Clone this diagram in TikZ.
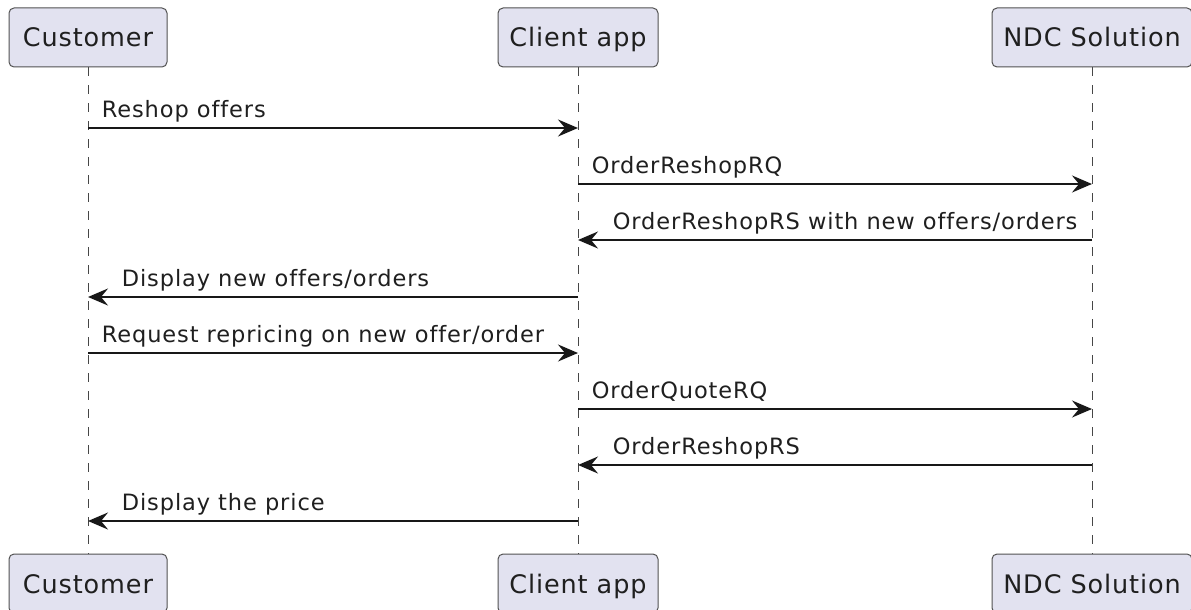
\documentclass[tikz,border=0pt]{standalone}
\usepackage{fontspec}
\setmainfont{DejaVu Sans}
\newfontfamily\partfont[LetterSpace=3.5,Ligatures={NoCommon}]{DejaVu Sans}
\newfontfamily\msgfont[LetterSpace=4,Ligatures={NoCommon}]{DejaVu Sans}
\usetikzlibrary{arrows.meta}
\definecolor{pfill}{HTML}{E2E2F0}
\definecolor{pline}{HTML}{181818}
\begin{document}
\begin{tikzpicture}[x=1pt,y=-1pt,
  participant/.style={draw=pline!75, line width=1pt, fill=pfill, rounded corners=5pt,
    minimum height=59pt, inner sep=0pt, text height=19pt, text depth=0pt,
    font=\partfont\fontsize{25.5}{30}\selectfont, text=black!88},
  lifeline/.style={draw=pline!80, line width=0.9pt, dash pattern=on 9pt off 9pt},
  msg/.style={draw=pline, line width=1.7pt, -{Stealth[length=20pt,width=17pt,inset=7pt]}},
  lbl/.style={font=\msgfont\fontsize{22.5}{27}\selectfont, text=black!88, inner sep=0pt, anchor=base west}
]
\useasboundingbox (0,0) rectangle (1191,610);
\clip (0,0) rectangle (1191,610);
\fill[white] (0,0) rectangle (1191,610);

% lifelines
\draw[lifeline] (88,67) -- (88,554);
\draw[lifeline] (578,67) -- (578,554);
\draw[lifeline] (1092,67) -- (1092,554);

% participants (top)
\node[participant, minimum width=158pt] (cust) at (88,37.5) {Customer};
\node[participant, minimum width=160pt] (app) at (578,37.5) {Client app};
\node[participant, minimum width=200pt] (ndc) at (1092,37.5) {NDC Solution};
% participants (bottom)
\node[participant, minimum width=158pt] (custb) at (88,583.5) {Customer};
\node[participant, minimum width=160pt] (appb) at (578,583.5) {Client app};
\node[participant, minimum width=200pt] (ndcb) at (1092,583.5) {NDC Solution};

% message levels
\coordinate (y1) at (0,128);
\coordinate (y2) at (0,184);
\coordinate (y3) at (0,240);
\coordinate (y4) at (0,297);
\coordinate (y5) at (0,353);
\coordinate (y6) at (0,409);
\coordinate (y7) at (0,465);
\coordinate (y8) at (0,521);

\draw[msg] (cust |- y1) -- (app |- y1) node[lbl, pos=0, xshift=13pt, yshift=10.5pt] {Reshop offers};
\draw[msg] (app |- y2) -- (ndc |- y2) node[lbl, pos=0, xshift=13pt, yshift=10.5pt] {OrderReshopRQ};
\draw[msg] (ndc |- y3) -- (app |- y3) node[lbl, pos=1, xshift=34pt, yshift=10.5pt] {OrderReshopRS with new offers/orders};
\draw[msg] (app |- y4) -- (cust |- y4) node[lbl, pos=1, xshift=33pt, yshift=10.5pt] {Display new offers/orders};
\draw[msg] (cust |- y5) -- (app |- y5) node[lbl, pos=0, xshift=13pt, yshift=10.5pt] {Request repricing on new offer/order};
\draw[msg] (app |- y6) -- (ndc |- y6) node[lbl, pos=0, xshift=13pt, yshift=10.5pt] {OrderQuoteRQ};
\draw[msg] (ndc |- y7) -- (app |- y7) node[lbl, pos=1, xshift=34pt, yshift=10.5pt] {OrderReshopRS};
\draw[msg] (app |- y8) -- (cust |- y8) node[lbl, pos=1, xshift=33pt, yshift=10.5pt] {Display the price};
\end{tikzpicture}
\end{document}
